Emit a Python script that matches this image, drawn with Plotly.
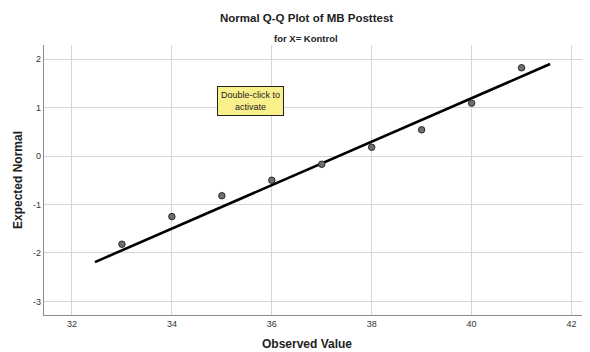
import plotly.graph_objects as go

observed = [33, 34, 35, 36, 37, 38, 39, 40, 41]
expected = [-1.82, -1.25, -0.82, -0.50, -0.17, 0.18, 0.54, 1.09, 1.82]
line_mean = 37.34
line_sd = 2.23
line_x = [32.46, 41.57]
line_z = [(v - line_mean) / line_sd for v in line_x]
x_ticks = [32, 34, 36, 38, 40, 42]
y_ticks = [-3, -2, -1, 0, 1, 2]
y_tick_labels = ["-3", "-2", "-1", "0", "1", "2"]

FONT = "Liberation Sans, Arial, sans-serif"
OFF = 8  # page body margin
W, H = 590 - OFF, 352 - OFF
L, R, T, B = 44 - OFF, 0, 45 - OFF, 37
PW, PH = W - L - R, H - T - B


def px_x(x):
    return (x - OFF - L) / PW


def px_y(y):
    return (H - B - (y - OFF)) / PH


fig = go.Figure()
fig.add_trace(go.Scatter(x=line_x, y=line_z, mode="lines",
                         line=dict(color="black", width=2.6), hoverinfo="skip"))
fig.add_trace(go.Scatter(x=observed, y=expected, mode="markers",
                         marker=dict(size=6.5, color="#6e6e6e",
                                     line=dict(color="#2a2a2a", width=1))))

ann = dict(xref="paper", yref="paper", showarrow=False, xanchor="center", yanchor="middle")

fig.update_layout(
    width=W, height=H,
    margin=dict(l=L, r=R, t=T, b=B, autoexpand=False),
    paper_bgcolor="white", plot_bgcolor="white",
    showlegend=False,
    font=dict(family=FONT, color="#222"),
    xaxis=dict(range=[31.44, 42.37], tickvals=x_ticks, showgrid=True,
               gridcolor="#d6d6d6", gridwidth=1, zeroline=False,
               showline=True, linecolor="#8c8c8c", linewidth=1.2,
               ticks="", tickfont=dict(size=9, color="#333"), automargin=False),
    yaxis=dict(range=[-3.28, 2.29], tickvals=y_ticks, ticktext=y_tick_labels,
               showgrid=True, gridcolor="#d6d6d6", gridwidth=1, zeroline=False,
               showline=True, linecolor="#8c8c8c", linewidth=1.2,
               ticks="", tickfont=dict(size=9, color="#333"), automargin=False),
    annotations=[
        dict(ann, text="<b>Normal Q-Q Plot of MB Posttest</b>",
             x=px_x(306), y=px_y(18), font=dict(size=11.5, color="#222")),
        dict(ann, text="<b>for X= Kontrol</b>",
             x=px_x(306), y=px_y(38), font=dict(size=9.5, color="#222")),
        dict(ann, text="<b>Observed Value</b>",
             x=px_x(307), y=px_y(344), font=dict(size=12, color="#222")),
        dict(ann, text="<b>Expected Normal</b>",
             x=px_x(18), y=px_y(180), textangle=-90, font=dict(size=12, color="#222")),
        dict(ann, text="Double-click to<br>activate",
             x=px_x(250), y=px_y(101), font=dict(size=9, color="#222"),
             bgcolor="#f9f08c", bordercolor="#222", borderwidth=1, borderpad=3),
    ],
)

fig.write_html("out.html")
